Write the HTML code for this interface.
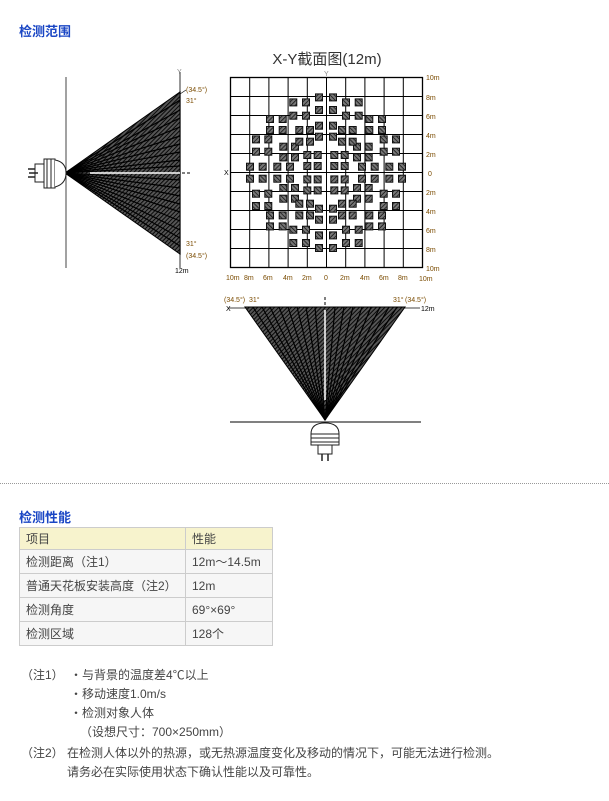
<!DOCTYPE html>
<html><head><meta charset="utf-8">
<style>
body{margin:0;background:#fff;width:609px;height:801px;overflow:hidden;font-family:"Liberation Sans","Noto Sans CJK SC",sans-serif;color:#333;position:relative}
.h{position:absolute;left:19px;font-size:13px;font-weight:bold;color:#1a46c4}
.dot{position:absolute;left:0;top:483px;width:609px;border-top:1px dotted #999}
table{position:absolute;left:19px;top:527px;border-collapse:collapse;font-size:12px;color:#444}
td{border:1px solid #ccc;padding:0 6px;height:23px;background:#f6f6f6}
tr.hd td{background:#f7f3cd;height:21px}
.n{position:absolute;font-size:12px;color:#444;white-space:nowrap}
svg{position:absolute;left:0;top:0}
</style></head><body>
<div class="h" style="top:21px">检测范围</div>
<svg width="609" height="480" viewBox="0 0 609 480">
<defs>
<pattern id="ht" width="3" height="3" patternUnits="userSpaceOnUse" patternTransform="rotate(45)"><rect width="3" height="3" fill="#555"/><line x1="0" y1="0" x2="0" y2="3" stroke="#000" stroke-width="1.8"/></pattern>
<pattern id="hs" width="3" height="3" patternUnits="userSpaceOnUse" patternTransform="rotate(45)"><rect width="3" height="3" fill="#777"/><line x1="0" y1="0" x2="0" y2="3" stroke="#111" stroke-width="1.5"/></pattern>
<g id="sq"><rect x="-3.5" y="-3.5" width="7" height="7" fill="url(#hs)" stroke="#111" stroke-width="1"/></g>
<g id="q">
<use href="#sq" x="-7" y="-75.3"/><use href="#sq" x="-7" y="-62.7"/><use href="#sq" x="-7" y="-47"/><use href="#sq" x="-7" y="-36"/>
<use href="#sq" x="-32.7" y="-70.3"/><use href="#sq" x="-20" y="-70.3"/><use href="#sq" x="-32.7" y="-57"/><use href="#sq" x="-20" y="-57"/>
<use href="#sq" x="-56" y="-53.7"/><use href="#sq" x="-43.3" y="-53.7"/><use href="#sq" x="-56" y="-42.7"/><use href="#sq" x="-43.3" y="-42.7"/>
<use href="#sq" x="-26.7" y="-42.7"/><use href="#sq" x="-16" y="-42.7"/>
<use href="#sq" x="-70" y="-33.3"/><use href="#sq" x="-57.7" y="-33.3"/><use href="#sq" x="-70" y="-21"/><use href="#sq" x="-57.7" y="-21"/>
<use href="#sq" x="-31" y="-26"/><use href="#sq" x="-26.7" y="-31"/><use href="#sq" x="-16" y="-31"/>
<use href="#sq" x="-42.7" y="-26"/><use href="#sq" x="-42.7" y="-15.3"/><use href="#sq" x="-31" y="-15.3"/>
<use href="#sq" x="-18.7" y="-17.7"/><use href="#sq" x="-8.3" y="-17.7"/><use href="#sq" x="-18.7" y="-6.7"/><use href="#sq" x="-8.3" y="-6.7"/>
<use href="#sq" x="-76" y="-6"/><use href="#sq" x="-63.3" y="-6"/><use href="#sq" x="-48.7" y="-6"/><use href="#sq" x="-36" y="-6"/>
</g>
</defs>
<!-- side view -->
<line x1="66" y1="77" x2="66" y2="268" stroke="#444" stroke-width="1"/>
<line x1="180" y1="72" x2="180" y2="268" stroke="#777" stroke-width="1.5"/>
<polygon points="65,173 180,92 180,254" fill="url(#ht)"/>
<g stroke="#000" stroke-width="1.2">
<line x1="65" y1="173" x2="180" y2="100"/><line x1="65" y1="173" x2="180" y2="110"/><line x1="65" y1="173" x2="180" y2="118"/><line x1="65" y1="173" x2="180" y2="127"/><line x1="65" y1="173" x2="180" y2="136"/><line x1="65" y1="173" x2="180" y2="144"/><line x1="65" y1="173" x2="180" y2="152"/><line x1="65" y1="173" x2="180" y2="160"/><line x1="65" y1="173" x2="180" y2="166"/>
<line x1="65" y1="173" x2="180" y2="180"/><line x1="65" y1="173" x2="180" y2="188"/><line x1="65" y1="173" x2="180" y2="196"/><line x1="65" y1="173" x2="180" y2="204"/><line x1="65" y1="173" x2="180" y2="212"/><line x1="65" y1="173" x2="180" y2="221"/><line x1="65" y1="173" x2="180" y2="230"/><line x1="65" y1="173" x2="180" y2="238"/><line x1="65" y1="173" x2="180" y2="246"/>
</g>
<polygon points="65,173 180,92 180,254" fill="none" stroke="#000" stroke-width="1"/>
<line x1="90" y1="173" x2="180" y2="173" stroke="#fff" stroke-width="1.5"/>
<line x1="182" y1="173" x2="190" y2="173" stroke="#000" stroke-dasharray="3,2"/>
<g fill="none" stroke="#222" stroke-width="1">
<rect x="44" y="159" width="11" height="29" fill="#fff"/>
<line x1="47" y1="159" x2="47" y2="188"/><line x1="51" y1="159" x2="51" y2="188"/>
<path d="M55,160 Q66,162 66,173 Q66,184 55,187" fill="#fff"/>
<rect x="35" y="164" width="9" height="18" fill="#fff"/>
<line x1="28" y1="169" x2="35" y2="169" stroke-width="1.5"/><line x1="28" y1="177" x2="35" y2="177" stroke-width="1.5"/>
<line x1="29" y1="173" x2="38" y2="173" stroke-width="1.5"/>
</g>
<g font-size="7" fill="#000">
<text x="177" y="74" fill="#888">Y</text>
<text x="186" y="92" fill="#7a4b00">(34.5°)</text><line x1="180" y1="94" x2="186" y2="90" stroke="#000" stroke-width=".6"/>
<text x="186" y="103" fill="#7a4b00">31°</text>
<text x="186" y="246" fill="#7a4b00">31°</text>
<text x="186" y="258" fill="#7a4b00">(34.5°)</text>
<text x="175" y="273">12m</text>
</g>
<!-- grid -->
<text x="327" y="64" font-size="15" text-anchor="middle" fill="#333" font-family="Liberation Sans,Noto Sans CJK SC,sans-serif">X-Y截面图(12m)</text>
<g stroke="#000" stroke-width="1">
<rect x="230.5" y="77.5" width="192" height="190" fill="none" stroke-width="1.3"/>
<line x1="249.7" y1="77" x2="249.7" y2="268"/><line x1="268.9" y1="77" x2="268.9" y2="268"/><line x1="288.1" y1="77" x2="288.1" y2="268"/><line x1="307.3" y1="77" x2="307.3" y2="268"/><line x1="326.5" y1="77" x2="326.5" y2="268"/><line x1="345.7" y1="77" x2="345.7" y2="268"/><line x1="364.9" y1="77" x2="364.9" y2="268"/><line x1="384.1" y1="77" x2="384.1" y2="268"/><line x1="403.3" y1="77" x2="403.3" y2="268"/>
<line x1="230" y1="96.5" x2="423" y2="96.5"/><line x1="230" y1="115.5" x2="423" y2="115.5"/><line x1="230" y1="134.5" x2="423" y2="134.5"/><line x1="230" y1="153.5" x2="423" y2="153.5"/><line x1="230" y1="172.5" x2="423" y2="172.5"/><line x1="230" y1="191.5" x2="423" y2="191.5"/><line x1="230" y1="210.5" x2="423" y2="210.5"/><line x1="230" y1="229.5" x2="423" y2="229.5"/><line x1="230" y1="248.5" x2="423" y2="248.5"/>
</g>
<g transform="translate(326,172.7)">
<use href="#q"/><use href="#q" transform="scale(-1,1)"/><use href="#q" transform="scale(1,-1)"/><use href="#q" transform="scale(-1,-1)"/>
</g>
<g font-size="7" fill="#7a4b00">
<text x="426" y="80">10m</text><text x="426" y="100">8m</text><text x="426" y="119">6m</text><text x="426" y="138">4m</text><text x="426" y="157">2m</text><text x="428" y="176">0</text><text x="426" y="195">2m</text><text x="426" y="214">4m</text><text x="426" y="233">6m</text><text x="426" y="252">8m</text><text x="426" y="271">10m</text>
<text x="226" y="280">10m</text><text x="244" y="280">8m</text><text x="263" y="280">6m</text><text x="283" y="280">4m</text><text x="302" y="280">2m</text><text x="324" y="280">0</text><text x="340" y="280">2m</text><text x="360" y="280">4m</text><text x="379" y="280">6m</text><text x="398" y="280">8m</text><text x="419" y="281">10m</text>
<text x="324" y="76" fill="#888">Y</text><text x="224" y="175" fill="#000">X</text>
</g>
<!-- bottom fan -->
<line x1="228" y1="308" x2="420" y2="308" stroke="#444"/>
<line x1="325" y1="297" x2="325" y2="305" stroke="#000" stroke-dasharray="3,2"/>
<polygon points="325,420 245,307 405,307" fill="url(#ht)"/>
<g stroke="#000" stroke-width="1.2">
<line x1="325" y1="420" x2="253" y2="307"/><line x1="325" y1="420" x2="262" y2="307"/><line x1="325" y1="420" x2="270" y2="307"/><line x1="325" y1="420" x2="279" y2="307"/><line x1="325" y1="420" x2="288" y2="307"/><line x1="325" y1="420" x2="297" y2="307"/><line x1="325" y1="420" x2="306" y2="307"/><line x1="325" y1="420" x2="315" y2="307"/>
<line x1="325" y1="420" x2="335" y2="307"/><line x1="325" y1="420" x2="344" y2="307"/><line x1="325" y1="420" x2="353" y2="307"/><line x1="325" y1="420" x2="362" y2="307"/><line x1="325" y1="420" x2="371" y2="307"/><line x1="325" y1="420" x2="380" y2="307"/><line x1="325" y1="420" x2="389" y2="307"/><line x1="325" y1="420" x2="397" y2="307"/>
</g>
<polygon points="325,420 245,307 405,307" fill="none" stroke="#000"/>
<line x1="325" y1="310" x2="325" y2="400" stroke="#fff" stroke-width="1.5"/>
<line x1="230" y1="422" x2="421" y2="422" stroke="#000"/>
<g stroke="#222" fill="#fff" stroke-width="1">
<path d="M311,434 Q311,423 325,423 Q339,423 339,434 Z"/>
<rect x="311" y="434" width="28" height="11"/>
<line x1="311" y1="438" x2="339" y2="438"/><line x1="311" y1="442" x2="339" y2="442"/>
<rect x="318" y="445" width="14" height="9"/>
<line x1="322" y1="454" x2="322" y2="461" stroke-width="1.5"/><line x1="328" y1="454" x2="328" y2="461" stroke-width="1.5"/>
</g>
<g font-size="7">
<text x="224" y="302" fill="#7a4b00">(34.5°)</text><text x="249" y="302" fill="#7a4b00">31°</text>
<text x="393" y="302" fill="#7a4b00">31°</text><text x="405" y="302" fill="#7a4b00">(34.5°)</text>
<text x="226" y="311" fill="#000">X</text><text x="421" y="311" fill="#000">12m</text>
</g>
</svg>
<div class="dot"></div>
<div class="h" style="top:507px">检测性能</div>
<table>
<tr class="hd"><td style="width:153px">项目</td><td style="width:74px">性能</td></tr>
<tr><td>检测距离（注1）</td><td>12m～14.5m</td></tr>
<tr><td>普通天花板安装高度（注2）</td><td>12m</td></tr>
<tr><td>检测角度</td><td>69°×69°</td></tr>
<tr><td>检测区域</td><td>128个</td></tr>
</table>
<div class="n" style="left:21px;top:666px">（注1）</div>
<div class="n" style="left:70px;top:666px">・与背景的温度差4℃以上</div>
<div class="n" style="left:70px;top:685px">・移动速度1.0m/s</div>
<div class="n" style="left:70px;top:704px">・检测对象人体</div>
<div class="n" style="left:80px;top:723px">（设想尺寸：700×250mm）</div>
<div class="n" style="left:21px;top:744px">（注2）</div>
<div class="n" style="left:67px;top:744px">在检测人体以外的热源，或无热源温度变化及移动的情况下，可能无法进行检测。</div>
<div class="n" style="left:67px;top:763px">请务必在实际使用状态下确认性能以及可靠性。</div>
</body></html>
